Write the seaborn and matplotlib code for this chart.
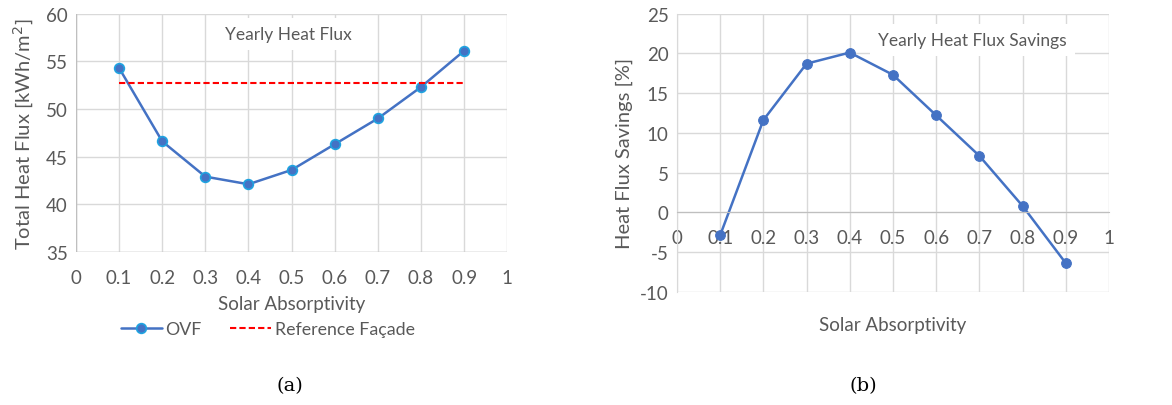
import pandas as pd
import matplotlib.pyplot as plt
import seaborn as sns

absorptivity = [0.1, 0.2, 0.3, 0.4, 0.5, 0.6, 0.7, 0.8, 0.9]
heat_flux_ovf = [54.3, 46.6, 42.9, 42.1, 43.6, 46.3, 49.0, 52.3, 56.1]
heat_flux_reference = [52.7] * 9
heat_flux_savings = [-2.9, 11.6, 18.7, 20.1, 17.3, 12.2, 7.1, 0.8, -6.4]
x_ticks = [0, 0.1, 0.2, 0.3, 0.4, 0.5, 0.6, 0.7, 0.8, 0.9, 1]
x_tick_labels = ['0', '0.1', '0.2', '0.3', '0.4', '0.5', '0.6', '0.7', '0.8', '0.9', '1']

sns.set_style('white')
plt.rcParams['font.family'] = ['Lato', 'DejaVu Sans']
plt.rcParams['axes.unicode_minus'] = False

TXT = '#595959'
GRID = '#d9d9d9'
BLUE = '#4472c4'

df_a = pd.DataFrame({'x': absorptivity, 'ovf': heat_flux_ovf, 'ref': heat_flux_reference})
df_b = pd.DataFrame({'x': absorptivity, 'sav': heat_flux_savings})

fig = plt.figure(figsize=(11.72, 4.06), dpi=100)
ax1 = fig.add_axes([0.0648, 0.377, 0.368, 0.587])
ax2 = fig.add_axes([0.5776, 0.279, 0.3686, 0.685])


def style_axes(ax):
    ax.set_xlim(0, 1)
    ax.set_xticks(x_ticks)
    ax.set_xticklabels(x_tick_labels)
    ax.grid(True, color=GRID, linewidth=1)
    ax.set_axisbelow(True)
    for s in ax.spines.values():
        s.set_visible(False)
    ax.tick_params(axis='both', length=0, labelsize=13.5, colors=TXT)
    ax.tick_params(axis='x', pad=12)
    ax.tick_params(axis='y', pad=6)


# (a) heat flux
style_axes(ax1)
sns.lineplot(data=df_a, x='x', y='ovf', ax=ax1, color=BLUE, linewidth=1.8,
             marker='o', markersize=7, markerfacecolor=BLUE,
             markeredgecolor='#1fa3e0', markeredgewidth=1.2, label='OVF')
sns.lineplot(data=df_a, x='x', y='ref', ax=ax1, color='#ff0000', linewidth=1.5,
             linestyle=(0, (3, 1.5)), label='Reference Façade')
ax1.set_ylim(35, 60)
ax1.set_yticks([35, 40, 45, 50, 55, 60])
ax1.set_xlabel('Solar Absorptivity', fontsize=13.5, color=TXT, labelpad=7)
ax1.set_ylabel('Total Heat Flux [kWh/m$^2$]', fontsize=14.5, color=TXT, labelpad=7)
ax1.text(0.492, 0.915, 'Yearly Heat Flux', transform=ax1.transAxes, ha='center', va='center',
         fontsize=12.5, color=TXT, bbox=dict(facecolor='white', edgecolor='none', pad=6))
ax1.legend(loc='center', bbox_to_anchor=(0.445, -0.325), ncol=2, frameon=False,
           fontsize=12.8, labelcolor=TXT, handlelength=2.3, columnspacing=1.6, handletextpad=0.2)
ax1.axhline(35, color='#bfbfbf', linewidth=1)
ax1.axvline(0, color='#bfbfbf', linewidth=1)

# (b) savings
style_axes(ax2)
sns.lineplot(data=df_b, x='x', y='sav', ax=ax2, color=BLUE, linewidth=1.8,
             marker='o', markersize=7, markerfacecolor=BLUE,
             markeredgecolor=BLUE, legend=False)
ax2.set_ylim(-10, 25)
ax2.set_yticks([-10, -5, 0, 5, 10, 15, 20, 25])
ax2.spines['bottom'].set_visible(True)
ax2.spines['bottom'].set_position(('data', 0))
ax2.spines['bottom'].set_color('#bfbfbf')
ax2.spines['left'].set_visible(True)
ax2.spines['left'].set_color('#d9d9d9')
ax2.set_xlabel('Solar Absorptivity', fontsize=13.5, color=TXT, va='center')
ax2.xaxis.set_label_coords(0.5, -0.117)
ax2.set_ylabel('Heat Flux Savings [%]', fontsize=14.5, color=TXT, labelpad=5)
ax2.text(0.684, 0.905, 'Yearly Heat Flux Savings', transform=ax2.transAxes, ha='center', va='center',
         fontsize=12.5, color=TXT, bbox=dict(facecolor='white', edgecolor='none', pad=6))

fig.text(0.247, 0.05, '(a)', ha='center', va='center', fontsize=14,
         family='DejaVu Serif', color='black')
fig.text(0.737, 0.05, '(b)', ha='center', va='center', fontsize=14,
         family='DejaVu Serif', color='black')

fig.savefig('out.png', dpi=100)
